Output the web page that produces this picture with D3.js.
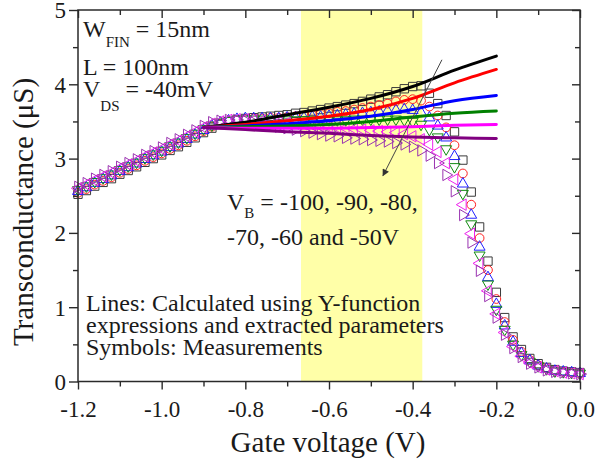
<!DOCTYPE html>
<html>
<head>
<meta charset="utf-8">
<script src="https://cdn.jsdelivr.net/npm/d3@7"></script>
<style>
  body { margin: 0; background: #fff; }
  text { font-family: "Liberation Serif", "Times New Roman", serif; fill: #1a1a1a; }
</style>
</head>
<body>
<svg id="chart" width="595" height="462"></svg>
<script>
// Gate-voltage sweep of the measurements (V)
const gateVoltage = [-1.20,-1.18,-1.16,-1.14,-1.12,-1.10,-1.08,-1.06,-1.04,-1.02,
  -1.00,-0.98,-0.96,-0.94,-0.92,-0.90,-0.88,-0.86,-0.84,-0.82,
  -0.80,-0.78,-0.76,-0.74,-0.72,-0.70,-0.68,-0.66,-0.64,-0.62,
  -0.60,-0.58,-0.56,-0.54,-0.52,-0.50,-0.48,-0.46,-0.44,-0.42,
  -0.40,-0.38,-0.36,-0.34,-0.32,-0.30,-0.28,-0.26,-0.24,-0.22,
  -0.20,-0.18,-0.16,-0.14,-0.12,-0.10,-0.08,-0.06,-0.04,-0.02,0.00];

// Measured transconductance (uS), one array per back-gate bias
const gmMeasVb100 = [2.52,2.57,2.63,2.68,2.73,2.79,2.84,2.89,2.95,3.00,
  3.05,3.11,3.16,3.22,3.28,3.35,3.41,3.46,3.50,3.52,
  3.54,3.55,3.56,3.57,3.58,3.59,3.61,3.62,3.64,3.66,
  3.68,3.70,3.72,3.74,3.77,3.80,3.83,3.86,3.90,3.94,
  3.97,3.98,3.88,3.74,3.58,3.36,2.98,2.55,2.08,1.62,
  1.20,0.86,0.60,0.43,0.31,0.24,0.19,0.16,0.14,0.13,0.12];
const gmMeasVb90 = [2.54,2.59,2.65,2.70,2.75,2.81,2.86,2.91,2.97,3.02,
  3.07,3.13,3.18,3.24,3.30,3.37,3.43,3.47,3.50,3.52,
  3.53,3.54,3.54,3.55,3.55,3.56,3.57,3.58,3.59,3.60,
  3.61,3.63,3.64,3.66,3.68,3.70,3.72,3.74,3.77,3.79,
  3.80,3.78,3.70,3.58,3.42,3.18,2.80,2.38,1.93,1.50,
  1.11,0.80,0.56,0.40,0.29,0.22,0.18,0.15,0.13,0.12,0.11];
const gmMeasVb80 = [2.56,2.61,2.67,2.72,2.77,2.83,2.88,2.93,2.99,3.04,
  3.09,3.15,3.20,3.26,3.32,3.38,3.44,3.48,3.51,3.53,
  3.54,3.54,3.54,3.54,3.54,3.55,3.55,3.55,3.56,3.56,
  3.57,3.58,3.59,3.60,3.61,3.62,3.63,3.64,3.65,3.66,
  3.65,3.62,3.55,3.44,3.28,3.03,2.66,2.24,1.81,1.40,
  1.04,0.75,0.53,0.38,0.28,0.21,0.17,0.14,0.13,0.12,0.11];
const gmMeasVb70 = [2.58,2.63,2.69,2.74,2.79,2.85,2.90,2.95,3.01,3.06,
  3.11,3.17,3.22,3.28,3.34,3.40,3.45,3.49,3.51,3.53,
  3.53,3.53,3.53,3.53,3.52,3.52,3.52,3.52,3.52,3.52,
  3.52,3.52,3.52,3.53,3.53,3.53,3.53,3.53,3.53,3.52,
  3.50,3.46,3.39,3.29,3.13,2.89,2.53,2.12,1.70,1.31,
  0.97,0.70,0.50,0.36,0.27,0.21,0.17,0.14,0.13,0.12,0.11];
const gmMeasVb60 = [2.60,2.65,2.71,2.76,2.81,2.87,2.92,2.97,3.03,3.08,
  3.13,3.19,3.24,3.30,3.36,3.42,3.47,3.50,3.52,3.53,
  3.53,3.52,3.51,3.50,3.49,3.48,3.47,3.46,3.45,3.44,
  3.43,3.42,3.41,3.40,3.39,3.38,3.37,3.36,3.35,3.33,
  3.30,3.26,3.19,3.09,2.94,2.72,2.38,1.99,1.59,1.22,
  0.91,0.66,0.47,0.34,0.25,0.19,0.16,0.14,0.12,0.11,0.10];
const gmMeasVb50 = [2.62,2.67,2.73,2.78,2.83,2.89,2.94,2.99,3.05,3.10,
  3.15,3.21,3.26,3.32,3.38,3.44,3.49,3.51,3.52,3.52,
  3.51,3.49,3.47,3.45,3.43,3.41,3.39,3.37,3.35,3.33,
  3.31,3.30,3.28,3.27,3.26,3.25,3.24,3.23,3.21,3.19,
  3.16,3.11,3.04,2.94,2.78,2.56,2.24,1.87,1.49,1.15,
  0.86,0.63,0.45,0.33,0.24,0.19,0.15,0.13,0.12,0.11,0.10];

// Y-function model curves (uS)
const fitVoltage = [-0.9,-0.8,-0.7,-0.6,-0.5,-0.4,-0.3,-0.2];
const gmFitVb100 = [3.42,3.49,3.59,3.69,3.81,3.97,4.19,4.38];
const gmFitVb90  = [3.42,3.46,3.51,3.57,3.66,3.81,4.02,4.20];
const gmFitVb80  = [3.42,3.44,3.47,3.51,3.57,3.66,3.78,3.85];
const gmFitVb70  = [3.42,3.43,3.44,3.46,3.50,3.56,3.61,3.64];
const gmFitVb60  = [3.42,3.41,3.41,3.41,3.42,3.43,3.45,3.46];
const gmFitVb50  = [3.42,3.39,3.36,3.34,3.31,3.29,3.28,3.27];

const backGateBias = ["-100", "-90", "-80", "-70", "-60", "-50"];

// Axis ticks
const xMajorTicks = [-1.2, -1.0, -0.8, -0.6, -0.4, -0.2, 0.0];
const xTickLabels = ["-1.2", "-1.0", "-0.8", "-0.6", "-0.4", "-0.2", "0.0"];
const xMinorTicks = [-1.1, -0.9, -0.7, -0.5, -0.3, -0.1];
const yMajorTicks = [0, 1, 2, 3, 4, 5];
const yTickLabels = ["0", "1", "2", "3", "4", "5"];
const yMinorTicks = [0.5, 1.5, 2.5, 3.5, 4.5];

// Shaded gate-voltage window
const windowRange = [-0.667, -0.377];

// ---- styling ----
const lineColors   = ["#000000", "#ff0000", "#0000ff", "#008000", "#ff00ff", "#800080"];
const symbolColors = ["#3a3a3a", "#ff2020", "#2020ff", "#108a10", "#ee22ee", "#9a33b0"];
const symbolShapes = ["square", "circle", "triUp", "triDown", "triLeft", "triRight"];

const measured = [gmMeasVb100, gmMeasVb90, gmMeasVb80, gmMeasVb70, gmMeasVb60, gmMeasVb50];
const fitted   = [gmFitVb100, gmFitVb90, gmFitVb80, gmFitVb70, gmFitVb60, gmFitVb50];

const svg = d3.select("#chart");
const x = d3.scaleLinear().domain([-1.2, 0]).range([78, 580]);
const y = d3.scaleLinear().domain([0, 5]).range([381.5, 10]);
const axisColor = "#2a2a2a";

// highlighted window
svg.append("rect")
  .attr("x", x(windowRange[0]))
  .attr("y", y(5))
  .attr("width", x(windowRange[1]) - x(windowRange[0]))
  .attr("height", y(0) - y(5))
  .attr("fill", "#ffffa8");

// measurement symbols
const symbolPath = {
  square:   { type: d3.symbolSquare,   size: 70, rot: 0 },
  circle:   { type: d3.symbolCircle,   size: 60, rot: 0 },
  triUp:    { type: d3.symbolTriangle, size: 52, rot: 0 },
  triDown:  { type: d3.symbolTriangle, size: 52, rot: 180 },
  triLeft:  { type: d3.symbolTriangle, size: 56, rot: -90 },
  triRight: { type: d3.symbolTriangle, size: 56, rot: 90 }
};

const symLayer = svg.append("g");
measured.forEach((vals, s) => {
  const spec = symbolPath[symbolShapes[s]];
  const gen = d3.symbol().type(spec.type).size(spec.size);
  symLayer.append("g")
    .selectAll("path")
    .data(vals.map((v, i) => [gateVoltage[i], v]))
    .join("path")
    .attr("d", gen)
    .attr("transform", d => `translate(${x(d[0])},${y(d[1])}) rotate(${spec.rot})`)
    .attr("fill", "none")
    .attr("stroke", symbolColors[s])
    .attr("stroke-width", 1);
});

// model lines
const line = d3.line()
  .x(d => x(d[0]))
  .y(d => y(d[1]))
  .curve(d3.curveMonotoneX);

const fitLayer = svg.append("g");
fitted.forEach((vals, s) => {
  fitLayer.append("path")
    .datum(vals.map((v, i) => [fitVoltage[i], v]))
    .attr("d", line)
    .attr("fill", "none")
    .attr("stroke", lineColors[s])
    .attr("stroke-width", 3)
    .attr("stroke-linecap", "round");
});

// axes
function styleAxis(g) {
  g.select(".domain").remove();
  g.selectAll(".tick line").attr("stroke", axisColor).attr("stroke-width", 1.4);
}

svg.append("g")
  .attr("transform", `translate(0,${y(0)})`)
  .call(d3.axisBottom(x).tickValues(xMajorTicks).tickFormat((d, i) => xTickLabels[i]).tickSize(8).tickSizeOuter(0))
  .call(styleAxis)
  .call(g => g.selectAll("text").attr("y", 35).attr("dy", 0)
    .attr("font-size", 23).attr("fill", "#1a1a1a")
    .attr("font-family", "Liberation Serif, Times New Roman, serif"));
svg.append("g")
  .attr("transform", `translate(0,${y(0)})`)
  .call(d3.axisBottom(x).tickValues(xMinorTicks).tickFormat("").tickSize(5).tickSizeOuter(0))
  .call(styleAxis);

svg.append("g")
  .attr("transform", `translate(${x(-1.2)},0)`)
  .call(d3.axisLeft(y).tickValues(yMajorTicks).tickFormat((d, i) => yTickLabels[i]).tickSize(9).tickSizeOuter(0))
  .call(styleAxis)
  .call(g => g.selectAll("text").attr("x", -12).attr("dy", "0.34em")
    .attr("font-size", 23).attr("fill", "#1a1a1a")
    .attr("font-family", "Liberation Serif, Times New Roman, serif"));
svg.append("g")
  .attr("transform", `translate(${x(-1.2)},0)`)
  .call(d3.axisLeft(y).tickValues(yMinorTicks).tickFormat("").tickSize(5).tickSizeOuter(0))
  .call(styleAxis);

// mirrored inward ticks on top and right
svg.append("g")
  .attr("transform", `translate(0,${y(5)})`)
  .call(d3.axisTop(x).tickValues(xMajorTicks).tickFormat("").tickSize(-8).tickSizeOuter(0))
  .call(styleAxis);
svg.append("g")
  .attr("transform", `translate(0,${y(5)})`)
  .call(d3.axisTop(x).tickValues(xMinorTicks).tickFormat("").tickSize(-5).tickSizeOuter(0))
  .call(styleAxis);
svg.append("g")
  .attr("transform", `translate(${x(0)},0)`)
  .call(d3.axisRight(y).tickValues(yMajorTicks).tickFormat("").tickSize(-8).tickSizeOuter(0))
  .call(styleAxis);
svg.append("g")
  .attr("transform", `translate(${x(0)},0)`)
  .call(d3.axisRight(y).tickValues(yMinorTicks).tickFormat("").tickSize(-5).tickSizeOuter(0))
  .call(styleAxis);

// frame
svg.append("rect")
  .attr("x", x(-1.2)).attr("y", y(5))
  .attr("width", x(0) - x(-1.2)).attr("height", y(0) - y(5))
  .attr("fill", "none").attr("stroke", axisColor).attr("stroke-width", 1.5);

// axis titles
svg.append("text")
  .attr("x", 328).attr("y", 452)
  .attr("text-anchor", "middle").attr("font-size", 29)
  .text("Gate voltage (V)");
svg.append("text")
  .attr("transform", "translate(33,212) rotate(-90)")
  .attr("text-anchor", "middle").attr("font-size", 29)
  .text("Transconductance (\u03bcS)");

// device parameters
const params = svg.append("g").attr("font-size", 24);
const t1 = params.append("text").attr("x", 83).attr("y", 37);
t1.append("tspan").text("W");
t1.append("tspan").attr("font-size", 15).attr("dy", 10).text("FIN");
t1.append("tspan").attr("dy", -10).text(" = 15nm");
params.append("text").attr("x", 83).attr("y", 75).text("L = 100nm");
const t3 = params.append("text").attr("x", 83).attr("y", 97);
t3.append("tspan").text("V");
t3.append("tspan").attr("font-size", 15).attr("dy", 14).text("DS");
t3.append("tspan").attr("dy", -14).text(" = -40mV");

// bias annotation with arrow
svg.append("defs").append("marker")
  .attr("id", "arrowHead")
  .attr("viewBox", "0 0 10 10")
  .attr("refX", 9).attr("refY", 5)
  .attr("markerWidth", 9).attr("markerHeight", 7)
  .attr("markerUnits", "userSpaceOnUse")
  .attr("orient", "auto")
  .append("path").attr("d", "M0,0 L10,5 L0,10 Z").attr("fill", "#333");

svg.append("line")
  .attr("x1", x(-0.330)).attr("y1", y(4.33))
  .attr("x2", x(-0.471)).attr("y2", y(2.77))
  .attr("stroke", "#444").attr("stroke-width", 1)
  .attr("marker-end", "url(#arrowHead)");

const bias = svg.append("g").attr("font-size", 24);
const b1 = bias.append("text").attr("x", 227).attr("y", 210);
b1.append("tspan").text("V");
b1.append("tspan").attr("font-size", 15).attr("dy", 8).text("B");
b1.append("tspan").attr("dy", -8)
  .text(" = " + backGateBias.slice(0, 3).join(", ") + ",");
bias.append("text").attr("x", 227).attr("y", 245)
  .text(backGateBias.slice(3, 5).join(", ") + " and " + backGateBias[5] + "V");

// legend note
const note = svg.append("g").attr("font-size", 24);
note.append("text").attr("x", 86).attr("y", 311).text("Lines: Calculated using Y-function");
note.append("text").attr("x", 86).attr("y", 333).text("expressions and extracted parameters");
note.append("text").attr("x", 86).attr("y", 355).text("Symbols: Measurements");
</script>
</body>
</html>
